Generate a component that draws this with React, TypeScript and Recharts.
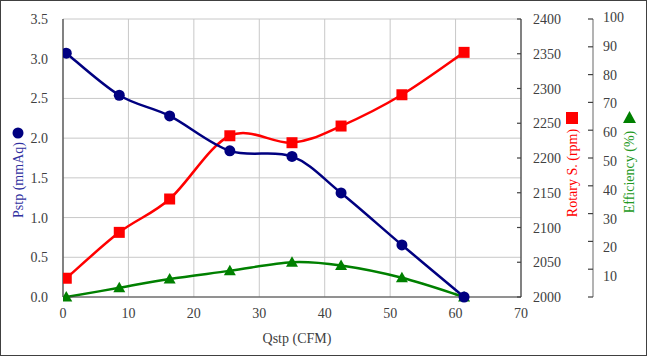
import React from "react";
import { LineChart, Line, XAxis, YAxis, CartesianGrid } from "recharts";

const QSTP = [0.5, 8.6, 16.3, 25.5, 35.0, 42.5, 51.8, 61.3];
const PSTP = [3.07, 2.54, 2.28, 1.84, 1.77, 1.31, 0.655, 0.0];
const ROTARY = [2027, 2093, 2141, 2232, 2222, 2246, 2291, 2352];
const EFFICIENCY = [0.0, 3.3, 6.5, 9.4, 12.5, 11.3, 6.9, 0.0];

const X_TICKS = [0, 10, 20, 30, 40, 50, 60, 70];
const P_TICKS = [0, 0.5, 1, 1.5, 2, 2.5, 3, 3.5];
const R_TICKS = [2000, 2050, 2100, 2150, 2200, 2250, 2300, 2350, 2400];
const E_TICKS = [0, 10, 20, 30, 40, 50, 60, 70, 80, 90, 100];

const W = 647;
const H = 356;
const FONT = "'Liberation Serif', 'DejaVu Serif', serif";
const TICK_COLOR = "#404040";
const AXIS_COLOR = "#404040";
const txt = { fontFamily: FONT, fontSize: 14 };

const data = QSTP.map((q, i) => ({
  q,
  pstp: PSTP[i],
  rpm: ROTARY[i],
  eff: EFFICIENCY[i],
}));

// Excel-like smoothed line (Catmull-Rom through the points)
const smoothCurve: any = (context: any) => {
  let pts: number[][] = [];
  return {
    areaStart() {},
    areaEnd() {},
    lineStart() {
      pts = [];
    },
    point(x: number, y: number) {
      pts.push([+x, +y]);
    },
    lineEnd() {
      if (!pts.length) return;
      context.moveTo(pts[0][0], pts[0][1]);
      for (let i = 0; i < pts.length - 1; i++) {
        const p0 = pts[i - 1] || pts[i];
        const p1 = pts[i];
        const p2 = pts[i + 1];
        const p3 = pts[i + 2] || p2;
        context.bezierCurveTo(
          p1[0] + (p2[0] - p0[0]) / 6,
          p1[1] + (p2[1] - p0[1]) / 6,
          p2[0] - (p3[0] - p1[0]) / 6,
          p2[1] - (p3[1] - p1[1]) / 6,
          p2[0],
          p2[1],
        );
      }
    },
  };
};

const XTick = ({ x, y, payload }: any) => (
  <text x={x} y={y + 21} textAnchor="middle" style={txt} fill={TICK_COLOR}>
    {payload.value}
  </text>
);

const LeftTick = ({ x, y, payload }: any) => (
  <text x={x - 15} y={y + 5} textAnchor="end" style={txt} fill={TICK_COLOR}>
    {Number(payload.value).toFixed(1)}
  </text>
);

const RpmTick = ({ x, y, payload }: any) => (
  <g>
    <line x1={x - 4} y1={y} x2={x} y2={y} stroke={AXIS_COLOR} strokeWidth={1.2} />
    <text x={x + 12} y={y + 5} textAnchor="start" style={txt} fill={TICK_COLOR}>
      {payload.value}
    </text>
  </g>
);

const EffTick = ({ x, y, payload }: any) => {
  const v = Number(payload.value);
  return (
    <g>
      <line x1={x - 5} y1={y} x2={x} y2={y} stroke={AXIS_COLOR} strokeWidth={1.2} />
      {v > 0 && (
        <text
          x={x + 10}
          y={y + 5 + (100 - v) * 0.1 - 2}
          textAnchor="start"
          style={txt}
          fill={TICK_COLOR}
        >
          {v}
        </text>
      )}
    </g>
  );
};

const Circle = ({ cx, cy }: any) =>
  cx == null ? null : <circle cx={cx} cy={cy} r={5.5} fill="#000080" />;

const Square = ({ cx, cy }: any) =>
  cx == null ? null : <rect x={cx - 5.5} y={cy - 5.5} width={11} height={11} fill="#ff0000" />;

const Triangle = ({ cx, cy }: any) =>
  cx == null ? null : (
    <polygon
      points={`${cx},${cy - 6} ${cx + 6},${cy + 4.5} ${cx - 6},${cy + 4.5}`}
      fill="#008000"
    />
  );

export default function App() {
  return (
    <div
      style={{
        position: "absolute",
        left: 0,
        top: 0,
        width: W,
        height: H,
        background: "#fff",
        fontFamily: FONT,
      }}
    >
      <LineChart
        width={W}
        height={H}
        data={data}
        margin={{ top: 19, right: 0, bottom: 0, left: 0 }}
      >
        <CartesianGrid yAxisId="y0" stroke="#c8c8c8" strokeWidth={1} verticalValues={X_TICKS} horizontalValues={P_TICKS} />
        <XAxis
          dataKey="q"
          type="number"
          domain={[0, 70]}
          ticks={X_TICKS}
          allowDataOverflow
          height={59}
          tickSize={0}
          tickMargin={0}
          tickLine={false}
          axisLine={{ stroke: AXIS_COLOR, strokeWidth: 1.2 }}
          tick={<XTick />}
        />
        <YAxis
          yAxisId="y0"
          orientation="left"
          domain={[0, 3.5]}
          ticks={P_TICKS}
          width={63}
          tickSize={0}
          tickMargin={0}
          tickLine={false}
          axisLine={{ stroke: AXIS_COLOR, strokeWidth: 1.2 }}
          tick={<LeftTick />}
        />
        <YAxis
          yAxisId="y1"
          orientation="right"
          domain={[2000, 2400]}
          ticks={R_TICKS}
          width={72}
          tickSize={0}
          tickMargin={0}
          tickLine={false}
          axisLine={{ stroke: AXIS_COLOR, strokeWidth: 1.2 }}
          tick={<RpmTick />}
        />
        <YAxis
          yAxisId="y2"
          orientation="right"
          domain={[0, 100]}
          ticks={E_TICKS}
          width={54}
          tickSize={0}
          tickMargin={0}
          tickLine={false}
          axisLine={{ stroke: "#808080", strokeWidth: 1.2 }}
          tick={<EffTick />}
        />
        <Line
          yAxisId="y1"
          dataKey="rpm"
          type={smoothCurve}
          stroke="#ff0000"
          strokeWidth={2.5}
          dot={<Square />}
          activeDot={false}
          isAnimationActive={false}
        />
        <Line
          yAxisId="y2"
          dataKey="eff"
          type={smoothCurve}
          stroke="#008000"
          strokeWidth={2.5}
          dot={<Triangle />}
          activeDot={false}
          isAnimationActive={false}
        />
        <Line
          yAxisId="y0"
          dataKey="pstp"
          type={smoothCurve}
          stroke="#000080"
          strokeWidth={2.5}
          dot={<Circle />}
          activeDot={false}
          isAnimationActive={false}
        />
      </LineChart>
      <svg
        width={W}
        height={H}
        style={{ position: "absolute", left: 0, top: 0, pointerEvents: "none" }}
      >
        <rect x={0.5} y={0.5} width={W - 1} height={H - 1} fill="none" stroke="#404040" strokeWidth={1} />
        <text x={297} y={343} textAnchor="middle" style={txt} fill={TICK_COLOR}>
          Qstp (CFM)
        </text>
        <text
          x={18}
          y={180}
          transform="rotate(-90 18 180)"
          textAnchor="middle"
          dominantBaseline="central"
          style={txt}
          fill="#3030a0"
        >
          Pstp (mmAq)
        </text>
        <circle cx={18} cy={133} r={5.5} fill="#000080" />
        <text
          x={572}
          y={173}
          transform="rotate(-90 572 173)"
          textAnchor="middle"
          dominantBaseline="central"
          style={txt}
          fill="#ff0000"
        >
          Rotary S. (rpm)
        </text>
        <rect x={566} y={112} width={12} height={12} fill="#ff0000" />
        <text
          x={629}
          y={172}
          transform="rotate(-90 629 172)"
          textAnchor="middle"
          dominantBaseline="central"
          style={txt}
          fill="#229922"
        >
          Efficiency (%)
        </text>
        <polygon points="629.5,111 636,123 623,123" fill="#008000" />
      </svg>
    </div>
  );
}
